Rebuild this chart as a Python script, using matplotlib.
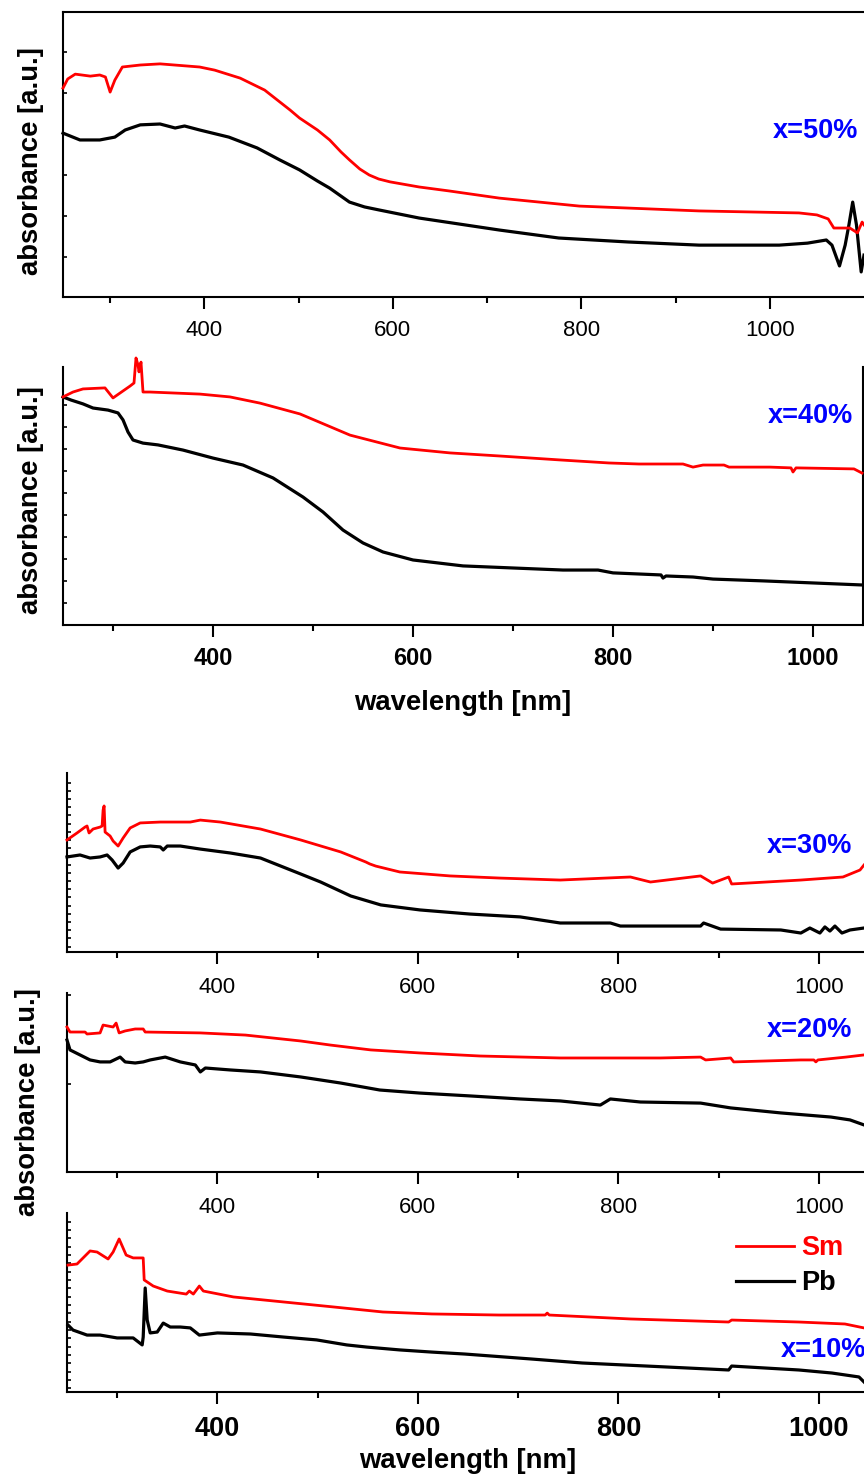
import matplotlib
matplotlib.use("Agg")
from matplotlib import pyplot as plt

plt.rcParams['font.family'] = ['Liberation Sans', 'DejaVu Sans']

# wavelength [nm] / absorbance [a.u.], one pair per curve

# x = 50 %
wl_50_sm = [250, 255, 263, 279, 289, 295, 300, 305, 313, 332, 353, 395, 411, 438, 464, 491, 501,
            520, 533, 545, 554, 565, 575, 585, 597, 628, 660, 713, 798, 925, 1031, 1050, 1062,
            1068, 1085, 1093, 1098, 1100]
ab_50_sm = [0.733, 0.765, 0.782, 0.775, 0.779, 0.772, 0.719, 0.761, 0.807, 0.814, 0.818, 0.807,
            0.796, 0.768, 0.726, 0.656, 0.628, 0.586, 0.551, 0.509, 0.481, 0.449, 0.428, 0.414,
            0.404, 0.386, 0.372, 0.347, 0.319, 0.302, 0.295, 0.288, 0.274, 0.242, 0.242, 0.225,
            0.263, 0.253]
wl_50_pb = [250, 268, 289, 305, 316, 332, 353, 369, 379, 395, 426, 456, 480, 501, 520, 533, 554,
            570, 586, 628, 713, 776, 850, 925, 1010, 1040, 1060, 1066, 1074, 1080, 1084, 1088,
            1092, 1097, 1100]
ab_50_pb = [0.575, 0.551, 0.551, 0.561, 0.586, 0.604, 0.607, 0.593, 0.600, 0.586, 0.561, 0.523,
            0.481, 0.446, 0.407, 0.382, 0.333, 0.316, 0.305, 0.277, 0.235, 0.207, 0.193, 0.182,
            0.182, 0.189, 0.200, 0.182, 0.109, 0.182, 0.253, 0.333, 0.253, 0.088, 0.147]

# x = 40 %
wl_40_sm = [250, 260, 270, 292, 300, 307, 317, 321, 323, 325, 326, 328, 330, 337, 387, 417, 447,
            487, 537, 587, 637, 687, 746, 796, 826, 870, 880, 890, 911, 916, 957, 978, 980, 983,
            1041, 1049]
ab_40_sm = [0.884, 0.903, 0.915, 0.919, 0.880, 0.899, 0.926, 0.938, 1.035, 1.008, 0.981, 1.019,
            0.903, 0.903, 0.895, 0.884, 0.860, 0.818, 0.736, 0.686, 0.667, 0.655, 0.640, 0.628,
            0.624, 0.624, 0.612, 0.620, 0.620, 0.612, 0.612, 0.609, 0.593, 0.609, 0.605, 0.589]
wl_40_pb = [250, 258, 270, 280, 295, 305, 310, 315, 320, 330, 345, 370, 400, 430, 460, 490, 510,
            530, 550, 570, 600, 650, 700, 750, 785, 800, 848, 850, 853, 880, 900, 950, 1000, 1050]
ab_40_pb = [0.884, 0.872, 0.857, 0.841, 0.833, 0.822, 0.795, 0.748, 0.717, 0.705, 0.698, 0.678,
            0.647, 0.620, 0.570, 0.496, 0.438, 0.368, 0.318, 0.283, 0.252, 0.229, 0.221, 0.213,
            0.213, 0.202, 0.194, 0.182, 0.190, 0.186, 0.178, 0.171, 0.163, 0.155]

# x = 30 %
wl_30_sm = [250, 260, 268, 270, 272, 276, 283, 285, 286, 287, 288, 293, 296, 301, 306, 313, 323,
            343, 373, 383, 403, 443, 483, 523, 548, 552, 558, 582, 632, 682, 742, 812, 832, 882,
            894, 910, 913, 982, 1024, 1041, 1045]
ab_30_sm = [0.626, 0.665, 0.698, 0.704, 0.665, 0.687, 0.698, 0.704, 0.793, 0.816, 0.670, 0.648,
            0.620, 0.592, 0.637, 0.693, 0.721, 0.726, 0.726, 0.737, 0.726, 0.687, 0.626, 0.559,
            0.503, 0.492, 0.480, 0.447, 0.425, 0.413, 0.402, 0.419, 0.391, 0.425, 0.385, 0.419,
            0.380, 0.402, 0.419, 0.458, 0.486]
wl_30_pb = [250, 263, 273, 283, 290, 295, 301, 306, 313, 323, 333, 343, 346, 350, 363, 383, 413,
            443, 483, 503, 533, 563, 602, 652, 702, 742, 792, 802, 882, 885, 902, 962, 982, 991,
            1001, 1006, 1011, 1016, 1023, 1031, 1045]
ab_30_pb = [0.531, 0.542, 0.525, 0.531, 0.542, 0.514, 0.469, 0.497, 0.559, 0.587, 0.592, 0.587,
            0.570, 0.592, 0.592, 0.575, 0.553, 0.525, 0.436, 0.391, 0.313, 0.263, 0.235, 0.212,
            0.196, 0.162, 0.162, 0.145, 0.145, 0.162, 0.128, 0.123, 0.106, 0.134, 0.106, 0.140,
            0.117, 0.145, 0.106, 0.123, 0.134]

# x = 20 %
wl_20_sm = [250, 253, 268, 270, 283, 286, 296, 299, 302, 308, 318, 326, 328, 383, 428, 483, 513,
            553, 602, 662, 742, 842, 882, 887, 912, 915, 982, 995, 997, 999, 1027, 1045]
ab_20_sm = [0.810, 0.782, 0.782, 0.771, 0.777, 0.821, 0.810, 0.832, 0.777, 0.788, 0.799, 0.799,
            0.782, 0.777, 0.765, 0.732, 0.709, 0.682, 0.665, 0.648, 0.637, 0.637, 0.642, 0.626,
            0.637, 0.615, 0.626, 0.626, 0.615, 0.626, 0.642, 0.654]
wl_20_pb = [250, 253, 263, 273, 283, 293, 303, 308, 318, 326, 333, 348, 363, 378, 383, 388, 413,
            443, 483, 523, 562, 602, 652, 702, 742, 782, 792, 822, 882, 912, 962, 1012, 1031, 1045]
ab_20_pb = [0.737, 0.682, 0.654, 0.626, 0.615, 0.615, 0.642, 0.615, 0.609, 0.615, 0.626, 0.642,
            0.615, 0.598, 0.559, 0.581, 0.570, 0.559, 0.531, 0.497, 0.458, 0.441, 0.425, 0.408,
            0.397, 0.374, 0.408, 0.391, 0.385, 0.358, 0.330, 0.307, 0.291, 0.263]

# x = 10 %
wl_10_sm = [251, 260, 273, 280, 291, 296, 302, 309, 316, 326, 327, 336, 350, 369, 372, 376, 382,
            386, 416, 466, 516, 565, 614, 681, 727, 729, 731, 812, 910, 913, 980, 1026, 1045]
ab_10_sm = [0.709, 0.715, 0.788, 0.782, 0.743, 0.782, 0.855, 0.765, 0.749, 0.749, 0.626, 0.592,
            0.564, 0.547, 0.564, 0.547, 0.592, 0.564, 0.531, 0.503, 0.475, 0.447, 0.436, 0.430,
            0.430, 0.441, 0.430, 0.408, 0.391, 0.402, 0.391, 0.380, 0.358]
wl_10_pb = [251, 256, 270, 283, 300, 316, 325, 326, 328, 330, 333, 340, 346, 353, 363, 373, 382,
            400, 433, 466, 499, 529, 549, 582, 614, 647, 714, 764, 847, 910, 913, 980, 1013, 1040,
            1045]
ab_10_pb = [0.374, 0.346, 0.318, 0.318, 0.302, 0.302, 0.263, 0.307, 0.581, 0.402, 0.330, 0.335,
            0.385, 0.363, 0.363, 0.358, 0.318, 0.330, 0.324, 0.307, 0.291, 0.263, 0.251, 0.235,
            0.223, 0.212, 0.184, 0.162, 0.140, 0.123, 0.145, 0.123, 0.106, 0.084, 0.056]

samples = ['x=50%', 'x=40%', 'x=30%', 'x=20%', 'x=10%']
W, H = 864, 1476


def rect(l, t, r, b):
    return [l / W, 1 - b / H, (r - l) / W, (b - t) / H]


def text_px(x, y, s, **kw):
    fig.text(x / W, 1 - y / H, s, **kw)


fig = plt.figure(figsize=(W / 100, H / 100), dpi=100)

# per panel: frame, x range, tick label style, y ticks, visible spines, label anchor
panels = [
    dict(r=(63, 12, 864, 297), xlim=(250, 1100), bold=False, fs=16, pad=8,
         yt=[0.140 + 0.144 * k for k in range(6)], spines=('left', 'bottom', 'top'),
         data=(wl_50_sm, ab_50_sm, wl_50_pb, ab_50_pb), lab=(858, 138)),
    dict(r=(63, 367, 863, 625), xlim=(250, 1050), bold=True, fs=17, pad=7.2,
         yt=[0.085 + 0.0853 * k for k in range(10)], spines=('left', 'bottom', 'right'),
         data=(wl_40_sm, ab_40_sm, wl_40_pb, ab_40_pb), lab=(853, 423)),
    dict(r=(67, 773, 864, 952), xlim=(250, 1045), bold=False, fs=16, pad=9.4,
         yt=[0.03 + 0.0458 * k for k in range(21)], spines=('left', 'bottom'),
         data=(wl_30_sm, ab_30_sm, wl_30_pb, ab_30_pb), lab=(852, 853)),
    dict(r=(67, 993, 864, 1172), xlim=(250, 1045), bold=False, fs=16, pad=9.4,
         yt=[0.0, 0.494, 0.988], spines=('left', 'bottom'),
         data=(wl_20_sm, ab_20_sm, wl_20_pb, ab_20_pb), lab=(852, 1037)),
    dict(r=(67, 1213, 864, 1392), xlim=(250, 1045), bold=True, fs=19.5, pad=9,
         yt=[0.02 + 0.0466 * k for k in range(21)], spines=('left', 'bottom'),
         data=(wl_10_sm, ab_10_sm, wl_10_pb, ab_10_pb), lab=(866, 1357)),
]

axes = []
for p, name in zip(panels, samples):
    ax = fig.add_axes(rect(*p['r']))
    wl_sm, ab_sm, wl_pb, ab_pb = p['data']
    l_sm, = ax.plot(wl_sm, ab_sm, color='#ff0000', lw=2.0, clip_on=False, label='Sm', zorder=3)
    l_pb, = ax.plot(wl_pb, ab_pb, color='black', lw=2.3, clip_on=False, label='Pb', zorder=2)
    ax.set_xlim(*p['xlim'])
    ax.set_ylim(0, 1)
    for side in ('left', 'bottom', 'top', 'right'):
        ax.spines[side].set_visible(side in p['spines'])
        ax.spines[side].set_linewidth(1.5)
    ax.set_xticks([400, 600, 800, 1000])
    ax.set_xticks([300, 500, 700, 900], minor=True)
    ax.set_yticks(p['yt'])
    ax.set_yticklabels([])
    ax.tick_params(axis='x', which='major', direction='out', length=8.6, width=1.5,
                   pad=p['pad'], labelsize=p['fs'], top=False)
    ax.tick_params(axis='x', which='minor', direction='out', length=4.3, width=1.5, top=False)
    ax.tick_params(axis='y', which='major', direction='in', length=3, width=1.2, right=False)
    if p['bold']:
        for t in ax.get_xticklabels():
            t.set_fontweight('bold')
    text_px(p['lab'][0], p['lab'][1], name, ha='right', va='baseline', color='#0000ff',
            fontsize=19.5, fontweight='bold')
    axes.append((ax, l_sm, l_pb))

# axis titles
lab_kw = dict(fontsize=19.8, fontweight='bold', ha='center', va='center', rotation=90)
text_px(31, 161, 'absorbance [a.u.]', **lab_kw)
text_px(31, 500, 'absorbance [a.u.]', **lab_kw)
text_px(28, 1102, 'absorbance [a.u.]', **lab_kw)
text_px(463, 710, 'wavelength [nm]', fontsize=19.8, fontweight='bold', ha='center', va='baseline')
text_px(468, 1468, 'wavelength [nm]', fontsize=19.8, fontweight='bold', ha='center', va='baseline')

# legend in the bottom panel
ax5, l_sm, l_pb = axes[-1]
ax5.legend([l_sm, l_pb], ['Sm', 'Pb'], loc='upper left',
           bbox_to_anchor=(736 / W, 1 - 1235 / H), bbox_transform=fig.transFigure,
           frameon=False, borderpad=0, borderaxespad=0, handlelength=2.15,
           handletextpad=0.25, labelspacing=0.35, labelcolor='linecolor',
           prop=dict(size=19.5, weight='bold'))

fig.savefig('out.png', dpi=100)
